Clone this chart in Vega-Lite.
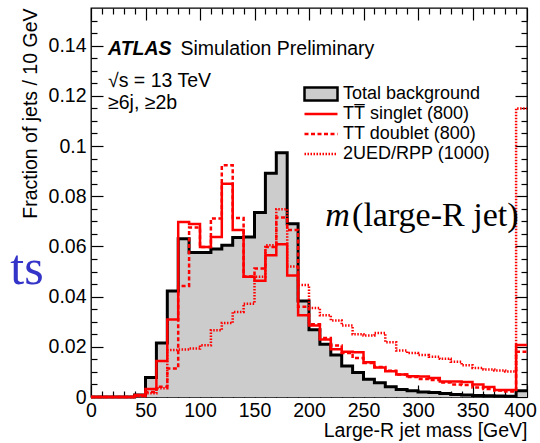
{
  "$schema": "https://vega.github.io/schema/vega-lite/v6.json",
  "width": 436,
  "height": 389,
  "autosize": {"type": "none"},
  "padding": {"left": 91, "top": 8, "right": 13, "bottom": 46},
  "background": "white",
  "config": {
    "font": "Liberation Sans",
    "view": {"stroke": "black", "strokeWidth": 1.3},
    "axis": {"labelFont": "Liberation Sans", "titleFont": "Liberation Sans", "labelColor": "black", "titleColor": "black", "tickColor": "black", "tickWidth": 1.2, "grid": false, "domain": false},
    "legend": {"labelLimit": 0, "padding": 0}
  },
  "datasets": {
    "h": [
      {"m": 0, "bkg": 0, "singlet": 0, "doublet": 0, "ued": 0},
      {"m": 10, "bkg": 0, "singlet": 0, "doublet": 0, "ued": 0},
      {"m": 20, "bkg": 0, "singlet": 0, "doublet": 0, "ued": 0},
      {"m": 30, "bkg": 0, "singlet": 0, "doublet": 0, "ued": 0},
      {"m": 40, "bkg": 0.0008, "singlet": 0.0008, "doublet": 0.0005, "ued": 0.0003},
      {"m": 50, "bkg": 0.0078, "singlet": 0.0032, "doublet": 0.002, "ued": 0.0015},
      {"m": 60, "bkg": 0.0215, "singlet": 0.0143, "doublet": 0.0041, "ued": 0.0035},
      {"m": 70, "bkg": 0.0422, "singlet": 0.0309, "doublet": 0.0114, "ued": 0.0187},
      {"m": 80, "bkg": 0.0631, "singlet": 0.0697, "doublet": 0.0442, "ued": 0.0189},
      {"m": 90, "bkg": 0.0576, "singlet": 0.0689, "doublet": 0.0675, "ued": 0.0193},
      {"m": 100, "bkg": 0.0576, "singlet": 0.0598, "doublet": 0.0598, "ued": 0.0206},
      {"m": 110, "bkg": 0.059, "singlet": 0.0638, "doublet": 0.0711, "ued": 0.0266},
      {"m": 120, "bkg": 0.0605, "singlet": 0.085, "doublet": 0.0923, "ued": 0.0295},
      {"m": 130, "bkg": 0.0636, "singlet": 0.0665, "doublet": 0.0713, "ued": 0.0339},
      {"m": 140, "bkg": 0.0638, "singlet": 0.0479, "doublet": 0.048, "ued": 0.0372},
      {"m": 150, "bkg": 0.0735, "singlet": 0.0463, "doublet": 0.0512, "ued": 0.0479},
      {"m": 160, "bkg": 0.0892, "singlet": 0.0565, "doublet": 0.0598, "ued": 0.0605},
      {"m": 170, "bkg": 0.0973, "singlet": 0.0609, "doublet": 0.0715, "ued": 0.0748},
      {"m": 180, "bkg": 0.069, "singlet": 0.0484, "doublet": 0.0665, "ued": 0.052},
      {"m": 190, "bkg": 0.0383, "singlet": 0.0326, "doublet": 0.036, "ued": 0.0446},
      {"m": 200, "bkg": 0.0268, "singlet": 0.0285, "doublet": 0.029, "ued": 0.0355},
      {"m": 210, "bkg": 0.021, "singlet": 0.0229, "doublet": 0.0235, "ued": 0.0326},
      {"m": 220, "bkg": 0.0167, "singlet": 0.019, "doublet": 0.0205, "ued": 0.0305},
      {"m": 230, "bkg": 0.0124, "singlet": 0.018, "doublet": 0.0175, "ued": 0.0285},
      {"m": 240, "bkg": 0.0098, "singlet": 0.0178, "doublet": 0.0155, "ued": 0.025},
      {"m": 250, "bkg": 0.0071, "singlet": 0.0138, "doublet": 0.0135, "ued": 0.0245},
      {"m": 260, "bkg": 0.0057, "singlet": 0.0118, "doublet": 0.012, "ued": 0.0255},
      {"m": 270, "bkg": 0.0041, "singlet": 0.0103, "doublet": 0.0105, "ued": 0.0218},
      {"m": 280, "bkg": 0.003, "singlet": 0.009, "doublet": 0.009, "ued": 0.0185},
      {"m": 290, "bkg": 0.0025, "singlet": 0.0083, "doublet": 0.008, "ued": 0.0175},
      {"m": 300, "bkg": 0.002, "singlet": 0.0082, "doublet": 0.0072, "ued": 0.0167},
      {"m": 310, "bkg": 0.0018, "singlet": 0.0076, "doublet": 0.0068, "ued": 0.016},
      {"m": 320, "bkg": 0.0014, "singlet": 0.0062, "doublet": 0.0058, "ued": 0.0152},
      {"m": 330, "bkg": 0.001, "singlet": 0.0062, "doublet": 0.005, "ued": 0.014},
      {"m": 340, "bkg": 0.0008, "singlet": 0.006, "doublet": 0.0048, "ued": 0.0127},
      {"m": 350, "bkg": 0.0006, "singlet": 0.005, "doublet": 0.0038, "ued": 0.0116},
      {"m": 360, "bkg": 0.0005, "singlet": 0.004, "doublet": 0.0032, "ued": 0.011},
      {"m": 370, "bkg": 0.0004, "singlet": 0.0028, "doublet": 0.0026, "ued": 0.0106},
      {"m": 380, "bkg": 0.0003, "singlet": 0.0028, "doublet": 0.0022, "ued": 0.0102},
      {"m": 390, "bkg": 0.0025, "singlet": 0.0207, "doublet": 0.018, "ued": 0.115},
      {"m": 400, "bkg": 0.0025, "singlet": 0.0207, "doublet": 0.018, "ued": 0.115}
    ]
  },
  "layer": [
    {
      "data": {"name": "h"},
      "mark": {"type": "area", "interpolate": "step-after"},
      "encoding": {
        "x": {
          "field": "m", "type": "quantitative",
          "scale": {"domain": [0, 400], "nice": false, "zero": false},
          "axis": {
            "orient": "bottom",
            "values": [0,10,20,30,40,50,60,70,80,90,100,110,120,130,140,150,160,170,180,190,200,210,220,230,240,250,260,270,280,290,300,310,320,330,340,350,360,370,380,390,400],
            "labelExpr": "datum.value % 50 === 0 ? datum.label : ''",
            "tickSize": {"condition": {"test": "datum.value % 50 === 0", "value": -12}, "value": -6},
            "labelOffset": {"condition": {"test": "datum.value === 400", "value": -7}, "value": 0},
            "labelPadding": 16,
            "labelFontSize": 19.5,
            "labelFlush": false, "labelBound": false, "labelOverlap": false,
            "title": "Large-R jet mass [GeV]",
            "titleFontSize": 19.5, "titleFontWeight": "normal",
            "titleAnchor": "end", "titleAlign": "right", "titleBaseline": "alphabetic",
            "titleX": 436, "titleY": 39
          }
        },
        "y": {
          "field": "bkg", "type": "quantitative",
          "scale": {"domain": [0, 0.155], "nice": false},
          "axis": {
            "orient": "left",
            "values": [0,0.005,0.01,0.015,0.02,0.025,0.03,0.035,0.04,0.045,0.05,0.055,0.06,0.065,0.07,0.075,0.08,0.085,0.09,0.095,0.1,0.105,0.11,0.115,0.12,0.125,0.13,0.135,0.14,0.145,0.15],
            "labelExpr": "round(datum.value*1000) % 20 === 0 ? format(datum.value, '~g') : ''",
            "tickSize": {"condition": {"test": "round(datum.value*1000) % 20 === 0", "value": -12}, "value": -6},
            "labelPadding": 17,
            "labelFontSize": 19.5,
            "labelOverlap": false, "labelFlush": false, "labelBound": false,
            "title": "Fraction of jets / 10 GeV",
            "titleFontSize": 19.5, "titleFontWeight": "normal",
            "titleAnchor": "end", "titleAngle": -90, "titleAlign": "right", "titleBaseline": "alphabetic",
            "titleX": -55, "titleY": 0
          }
        },
        "fill": {
          "datum": "Total background", "type": "nominal",
          "scale": {"range": ["#cccccc"]},
          "legend": {
            "orient": "none", "legendX": 221, "legendY": 77, "title": null,
            "symbolType": "M-3,-1.2H3V1.2H-3Z", "symbolSize": 121,
            "symbolStrokeColor": "black", "symbolStrokeWidth": 2.5, "symbolOpacity": 1,
            "labelFontSize": 18, "labelColor": "black", "labelOffset": 13
          }
        }
      }
    },
    {
      "data": {"name": "h"},
      "mark": {"type": "line", "interpolate": "step-after", "color": "black", "strokeWidth": 3},
      "encoding": {
        "x": {
          "field": "m", "type": "quantitative",
          "axis": {
            "orient": "top", "labels": false, "title": null,
            "values": [0,10,20,30,40,50,60,70,80,90,100,110,120,130,140,150,160,170,180,190,200,210,220,230,240,250,260,270,280,290,300,310,320,330,340,350,360,370,380,390,400],
            "tickSize": {"condition": {"test": "datum.value % 50 === 0", "value": -12}, "value": -6}
          }
        },
        "y": {
          "field": "bkg", "type": "quantitative",
          "axis": {
            "orient": "right", "labels": false, "title": null,
            "values": [0,0.005,0.01,0.015,0.02,0.025,0.03,0.035,0.04,0.045,0.05,0.055,0.06,0.065,0.07,0.075,0.08,0.085,0.09,0.095,0.1,0.105,0.11,0.115,0.12,0.125,0.13,0.135,0.14,0.145,0.15],
            "tickSize": {"condition": {"test": "round(datum.value*1000) % 20 === 0", "value": -12}, "value": -6}
          }
        }
      }
    },
    {
      "data": {"name": "h"},
      "transform": [{"fold": ["singlet", "doublet", "ued"], "as": ["series", "frac"]}],
      "mark": {"type": "line", "interpolate": "step-after", "strokeWidth": 2.5},
      "encoding": {
        "x": {"field": "m", "type": "quantitative", "axis": null},
        "y": {"field": "frac", "type": "quantitative", "axis": null},
        "color": {
          "field": "series", "type": "nominal",
          "scale": {"domain": ["singlet", "doublet", "ued"], "range": ["#ff0000", "#ff0000", "#ff0000"]},
          "legend": {
            "orient": "none", "legendX": 221, "legendY": 97, "title": null,
            "symbolType": "M-3,0H3", "symbolSize": 121, "symbolStrokeWidth": 2.5,
            "labelFontSize": 18, "labelColor": "black", "labelOffset": 13, "rowPadding": 2,
            "labelExpr": "datum.value == 'singlet' ? 'TT\u0305 singlet (800)' : datum.value == 'doublet' ? 'TT doublet (800)' : '2UED/RPP (1000)'"
          }
        },
        "strokeDash": {
          "field": "series", "type": "nominal",
          "scale": {"domain": ["singlet", "doublet", "ued"], "range": [[1, 0], [4, 2.5], [1.5, 1.5]]},
          "legend": {
            "orient": "none", "legendX": 221, "legendY": 97, "title": null,
            "symbolType": "M-3,0H3", "symbolSize": 121, "symbolStrokeWidth": 2.5,
            "labelFontSize": 18, "labelColor": "black", "labelOffset": 13, "rowPadding": 2,
            "labelExpr": "datum.value == 'singlet' ? 'TT\u0305 singlet (800)' : datum.value == 'doublet' ? 'TT doublet (800)' : '2UED/RPP (1000)'"
          }
        }
      }
    },
    {
      "data": {"values": [{"x": 15.6, "y": 0.1363, "t": "ATLAS"}]},
      "mark": {"type": "text", "align": "left", "baseline": "alphabetic", "fontSize": 19.5, "fontWeight": "bold", "fontStyle": "italic", "font": "Liberation Sans", "color": "black"},
      "encoding": {"x": {"field": "x", "type": "quantitative", "axis": null}, "y": {"field": "y", "type": "quantitative", "axis": null}, "text": {"field": "t"}}
    },
    {
      "data": {"values": [
        {"x": 82, "y": 0.1363, "t": "Simulation Preliminary"},
        {"x": 15.6, "y": 0.1235, "t": "√s = 13 TeV"},
        {"x": 15.6, "y": 0.1148, "t": "≥6j, ≥2b"}
      ]},
      "mark": {"type": "text", "align": "left", "baseline": "alphabetic", "fontSize": 19.5, "font": "Liberation Sans", "color": "black"},
      "encoding": {"x": {"field": "x", "type": "quantitative", "axis": null}, "y": {"field": "y", "type": "quantitative", "axis": null}, "text": {"field": "t"}}
    },
    {
      "data": {"values": [{"x": 215, "y": 0.0681, "t": "m"}]},
      "mark": {"type": "text", "align": "left", "baseline": "alphabetic", "fontSize": 34, "fontStyle": "italic", "font": "Liberation Serif", "color": "black"},
      "encoding": {"x": {"field": "x", "type": "quantitative", "axis": null}, "y": {"field": "y", "type": "quantitative", "axis": null}, "text": {"field": "t"}}
    },
    {
      "data": {"values": [{"x": 239.5, "y": 0.0681, "t": "(large-R jet)"}]},
      "mark": {"type": "text", "align": "left", "baseline": "alphabetic", "fontSize": 34, "font": "Liberation Serif", "color": "black"},
      "encoding": {"x": {"field": "x", "type": "quantitative", "axis": null}, "y": {"field": "y", "type": "quantitative", "axis": null}, "text": {"field": "t"}}
    },
    {
      "data": {"values": [{"x": -74, "y": 0.045, "t": "ts"}]},
      "mark": {"type": "text", "align": "left", "baseline": "alphabetic", "fontSize": 50, "font": "Liberation Serif", "color": "#3434c8"},
      "encoding": {"x": {"field": "x", "type": "quantitative", "axis": null}, "y": {"field": "y", "type": "quantitative", "axis": null}, "text": {"field": "t"}}
    }
  ],
  "resolve": {"axis": {"x": "independent", "y": "independent"}}
}
